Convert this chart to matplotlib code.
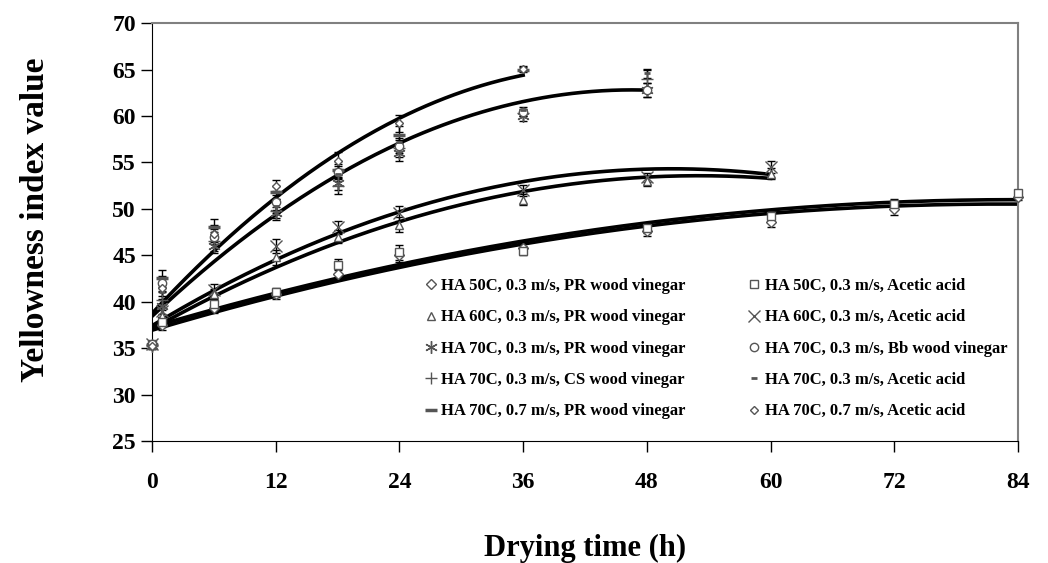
import matplotlib.pyplot as plt
import numpy as np

# drying times (h)
t_50 = [0, 1, 6, 12, 18, 24, 36, 48, 60, 72, 84]
t_60 = [0, 1, 6, 12, 18, 24, 36, 48, 60]
t_70a = [0, 1, 6, 12, 18, 24, 36, 48]
t_70b = [0, 1, 6, 12, 18, 24, 36]

# yellowness index values
yi_50_pr = [35.3, 37.5, 39.3, 40.8, 43.0, 45.0, 45.8, 47.6, 48.6, 50.0, 51.3]
yi_50_ac = [35.4, 37.8, 39.8, 41.0, 44.0, 45.3, 45.5, 47.9, 49.2, 50.5, 51.7]
yi_60_pr = [35.3, 38.5, 40.8, 44.8, 47.0, 48.3, 51.0, 53.0, 53.8]
yi_60_ac = [35.4, 39.0, 41.3, 46.0, 48.0, 49.5, 52.0, 53.4, 54.5]
yi_70_pr = [35.2, 39.5, 46.0, 49.5, 52.8, 56.0, 60.0, 62.8]
yi_70_cs = [35.3, 40.2, 46.5, 49.8, 52.5, 56.5, 60.3, 64.0]
yi_70_bb = [35.4, 42.0, 47.0, 50.7, 54.0, 56.8, 60.4, 62.8]
yi_70_ac = [35.3, 41.0, 47.5, 50.3, 53.8, 57.2, 60.6, 64.6]
yi_70f_pr = [35.3, 42.5, 48.0, 51.8, 54.2, 58.0, 65.0]
yi_70f_ac = [35.2, 41.5, 47.3, 52.5, 55.2, 59.2, 65.1]

# error bar half-widths
err_50_pr = [0.3, 0.5, 0.5, 0.5, 0.6, 0.7, 0.6, 0.5, 0.6, 0.7, 0.4]
err_50_ac = [0.3, 0.5, 0.5, 0.5, 0.6, 0.8, 0.5, 0.5, 0.5, 0.6, 0.3]
err_60_pr = [0.3, 0.6, 0.6, 0.8, 0.7, 0.8, 0.6, 0.5, 0.6]
err_60_ac = [0.3, 0.6, 0.6, 0.8, 0.7, 0.8, 0.6, 0.5, 0.6]
err_70_pr = [0.3, 0.8, 0.8, 0.7, 0.8, 0.8, 0.5, 0.8]
err_70_cs = [0.3, 0.8, 1.0, 0.8, 0.9, 0.9, 0.3, 1.0]
err_70_bb = [0.3, 0.8, 0.8, 0.8, 0.8, 0.8, 0.4, 0.8]
err_70_ac = [0.3, 0.8, 0.8, 0.8, 0.8, 0.8, 0.4, 0.5]
err_70f_pr = [0.3, 0.9, 0.9, 0.7, 0.9, 0.9, 0.3]
err_70f_ac = [0.3, 0.9, 0.9, 0.6, 0.9, 0.9, 0.3]

labels = [
    "HA 50C, 0.3 m/s, PR wood vinegar",
    "HA 60C, 0.3 m/s, PR wood vinegar",
    "HA 70C, 0.3 m/s, PR wood vinegar",
    "HA 70C, 0.3 m/s, CS wood vinegar",
    "HA 70C, 0.7 m/s, PR wood vinegar",
    "HA 50C, 0.3 m/s, Acetic acid",
    "HA 60C, 0.3 m/s, Acetic acid",
    "HA 70C, 0.3 m/s, Bb wood vinegar",
    "HA 70C, 0.3 m/s, Acetic acid",
    "HA 70C, 0.7 m/s, Acetic acid",
]

series = [
    (t_50, yi_50_pr, err_50_pr, dict(marker="D", ms=5)),
    (t_60, yi_60_pr, err_60_pr, dict(marker="^", ms=6)),
    (t_70a, yi_70_pr, err_70_pr, dict(marker=(6, 2, 0), ms=9)),
    (t_70a, yi_70_cs, err_70_cs, dict(marker="+", ms=9)),
    (t_70b, yi_70f_pr, err_70f_pr, dict(marker="_", ms=8, mew=2.5)),
    (t_50, yi_50_ac, err_50_ac, dict(marker="s", ms=6)),
    (t_60, yi_60_ac, err_60_ac, dict(marker="x", ms=8)),
    (t_70a, yi_70_bb, err_70_bb, dict(marker="o", ms=6)),
    (t_70a, yi_70_ac, err_70_ac, dict(marker="_", ms=5, mew=2)),
    (t_70b, yi_70f_ac, err_70f_ac, dict(marker="D", ms=4)),
]

# which series share one second order trend line
fit_groups = [[0], [5], [1], [6], [2, 3, 7, 8], [4, 9]]

plt.rcParams['font.family'] = ['Liberation Serif', 'DejaVu Serif']
plt.rcParams['font.weight'] = 'bold'

fig = plt.figure(figsize=(10.48, 5.63), dpi=100)
ax = fig.add_axes([0.145, 0.2167, 0.8264, 0.7423])

# polynomial trend lines
for grp in fit_groups:
    t_all = np.concatenate([np.array(series[i][0], dtype=float) for i in grp])
    y_all = np.concatenate([np.array(series[i][1], dtype=float) for i in grp])
    coef = np.polyfit(t_all, y_all, 2)
    tt = np.linspace(0, t_all.max(), 200)
    ax.plot(tt, np.polyval(coef, tt), color="black", lw=2.6, zorder=2)

for (t, y, e, style), lab in zip(series, labels):
    ax.errorbar(t, y, yerr=e, fmt="none", ecolor="black", elinewidth=1,
                capsize=3, capthick=1, zorder=3, clip_on=False)
    style = dict(style)
    mew = style.pop("mew", 1.0)
    ax.plot(t, y, linestyle="none", color="#555555", mfc="white",
            mec="#555555", mew=mew, label=lab, zorder=4, clip_on=False,
            **style)

ax.set_xlim(0, 84)
ax.set_ylim(25, 70)
ax.set_xticks(np.arange(0, 85, 12))
ax.set_yticks(np.arange(25, 71, 5))
ax.tick_params(direction="out", length=8, width=1, labelsize=17)
ax.tick_params(axis="y", pad=3.5)
ax.tick_params(axis="x", pad=14)
for s in ["top", "right"]:
    ax.spines[s].set_color("#808080")
    ax.spines[s].set_linewidth(1.5)

ax.set_xlabel("Drying time (h)", fontsize=22, fontweight="bold", labelpad=30)
ax.set_ylabel("Yellowness index value", fontsize=24, fontweight="bold")
ax.yaxis.set_label_coords(-0.117, 0.53)

leg = ax.legend(ncol=2, loc="upper left", bbox_to_anchor=(0.315, 0.39),
                frameon=False, fontsize=12, handlelength=0.7,
                handletextpad=0.3, columnspacing=3.75, labelspacing=0.92,
                borderaxespad=0, borderpad=0)

plt.savefig("out.png", dpi=100)
